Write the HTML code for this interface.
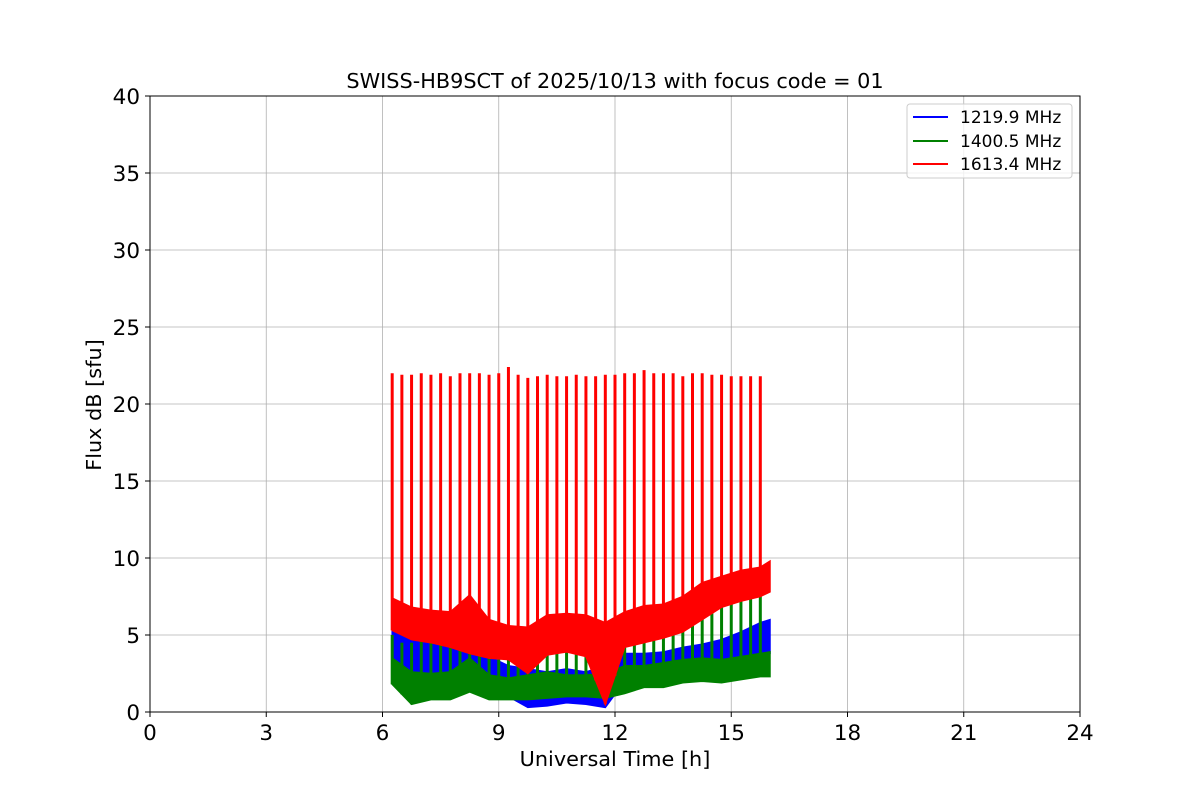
<!DOCTYPE html>
<html><head><meta charset="utf-8"><style>
body{margin:0;background:#fff;}
svg{display:block;font-family:"DejaVu Sans","Liberation Sans",sans-serif;}
</style></head><body>
<svg id="chart" width="1200" height="800" viewBox="0 0 1200 800" xmlns="http://www.w3.org/2000/svg">
<rect width="1200" height="800" fill="#fff"/>
<g id="grid"></g>
<g id="series"></g>
<rect x="150" y="96" width="930" height="616" fill="none" stroke="#000" stroke-width="1"/>
<g id="ticks"></g>
<text x="615" y="88" font-size="20.8" text-anchor="middle">SWISS-HB9SCT of 2025/10/13 with focus code = 01</text>
<text x="615" y="766" font-size="20.8" text-anchor="middle">Universal Time [h]</text>
<text x="101" y="405" font-size="20.8" text-anchor="middle" transform="rotate(-90 101 405)">Flux dB [sfu]</text>
<g>
<rect x="907" y="104" width="165" height="74" rx="3" fill="#fff" fill-opacity="0.8" stroke="#ccc"/>
<g><line x1="913" y1="117" x2="948" y2="117" stroke="#0000ff" stroke-width="2"/><text x="960" y="123" font-size="17">1219.9 MHz</text></g>
<g><line x1="913" y1="141" x2="948" y2="141" stroke="#008000" stroke-width="2"/><text x="960" y="147" font-size="17">1400.5 MHz</text></g>
<g><line x1="913" y1="164" x2="948" y2="164" stroke="#ff0000" stroke-width="2"/><text x="960" y="170" font-size="17">1613.4 MHz</text></g>
</g>
</svg>
<script>
const times=[6.25,6.75,7.25,7.75,8.25,8.75,9.25,9.75,10.25,10.75,11.25,11.75,12.25,12.75,13.25,13.75,14.25,14.75,15.25,15.75,16.0];
const blueLo=[2.5,2.0,2.1,2.0,2.2,1.6,1.0,0.3,0.4,0.6,0.5,0.3,2.0,2.2,2.3,2.5,2.8,3.0,3.2,3.6,3.8];
const blueHi=[5.4,4.8,4.5,4.3,4.6,3.6,3.0,2.8,2.6,2.8,2.6,3.0,3.8,3.8,3.9,4.2,4.4,4.7,5.2,5.8,6.0];
const greenLo=[1.8,0.5,0.8,0.8,1.3,0.8,0.8,0.8,0.9,1.0,1.0,0.9,1.2,1.6,1.6,1.9,2.0,1.9,2.1,2.3,2.3];
const greenHi=[3.5,2.6,2.5,2.6,3.5,2.4,2.2,2.4,2.6,2.4,2.4,2.5,3.0,3.0,3.2,3.4,3.5,3.4,3.6,3.8,3.9];
const redLo=[5.3,4.7,4.5,4.2,3.8,3.5,3.4,2.5,3.7,3.9,3.6,0.5,4.2,4.5,4.8,5.2,6.0,6.8,7.2,7.5,7.8];
const redHi=[7.4,6.8,6.6,6.5,7.6,6.0,5.6,5.5,6.3,6.4,6.3,5.8,6.5,6.9,7.0,7.5,8.4,8.8,9.2,9.4,9.8];
const spikeTimes=[6.25,6.5,6.75,7.0,7.25,7.5,7.75,8.0,8.25,8.5,8.75,9.0,9.25,9.5,9.75,10.0,10.25,10.5,10.75,11.0,11.25,11.5,11.75,12.0,12.25,12.5,12.75,13.0,13.25,13.5,13.75,14.0,14.25,14.5,14.75,15.0,15.25,15.5,15.75];
const redSpikes=[22.0,21.9,21.9,22.0,21.9,22.0,21.8,22.0,22.0,22.0,21.9,22.0,22.4,21.9,21.7,21.8,21.9,21.8,21.8,21.9,21.8,21.8,21.9,21.9,22.0,22.0,22.2,22.0,22.0,22.0,21.8,22.0,22.0,21.9,21.9,21.8,21.8,21.8,21.8];
const greenSpikes=[5.0,4.5,4.5,4.6,4.5,4.6,4.5,4.5,4.6,4.5,4.4,4.4,4.4,4.4,4.5,4.5,4.5,4.6,4.4,4.4,4.5,4.4,4.5,4.6,4.8,5.0,5.3,5.5,5.8,6.0,6.3,6.6,6.9,7.2,7.5,7.8,8.0,8.2,8.3];
const xTicks=[0,3,6,9,12,15,18,21,24];
const yTicks=[0,5,10,15,20,25,30,35,40];
const NS='http://www.w3.org/2000/svg';
const X=t=>150+t/24*930, Y=v=>712-v/40*616;
function mk(tag,attrs,parent){const e=document.createElementNS(NS,tag);for(const k in attrs)e.setAttribute(k,attrs[k]);parent.appendChild(e);return e;}
function interp(arr,t){
  for(let i=0;i<times.length-1;i++){if(t<=times[i+1]){const f=(t-times[i])/(times[i+1]-times[i]);return arr[i]+f*(arr[i+1]-arr[i]);}}
  return arr[arr.length-1];
}
const grid=document.getElementById('grid'),ticks=document.getElementById('ticks'),ser=document.getElementById('series');
xTicks.forEach(t=>{
  const g=mk('line',{x1:X(t),x2:X(t),y1:96,y2:712,stroke:'#b0b0b0','stroke-width':0.8},grid);
  
  
  mk('line',{x1:X(t),x2:X(t),y1:712,y2:717,stroke:'#000'},ticks);
  const l=mk('text',{x:X(t),y:740,'font-size':21.5,'text-anchor':'middle'},ticks);l.textContent=t;
  
  
});
yTicks.forEach(v=>{
  const g=mk('line',{x1:150,x2:1080,y1:Y(v),y2:Y(v),stroke:'#b0b0b0','stroke-width':0.8},grid);
  
  
  mk('line',{x1:145,x2:150,y1:Y(v),y2:Y(v),stroke:'#000'},ticks);
  const l=mk('text',{x:140,y:Y(v)+8,'font-size':21.5,'text-anchor':'end'},ticks);l.textContent=v;
  
  
});
function band(lo,hi,color,name){
  let pts=times.map((t,i)=>X(t)+','+Y(hi[i]));
  for(let i=times.length-1;i>=0;i--)pts.push(X(times[i])+','+Y(lo[i]));
  const p=mk('polygon',{points:pts.join(' '),fill:color,stroke:color,'stroke-width':1.5},ser);
  
  
}
function spikes(vals,base,color,name){
  spikeTimes.forEach((t,i)=>{
    const l=mk('line',{x1:X(t),x2:X(t),y1:Y(interp(base,t)),y2:Y(vals[i]),stroke:color,'stroke-width':3},ser);
    
    
  });
}
band(blueLo,blueHi,'#0000ff','series-1219-band');
band(greenLo,greenHi,'#008000','series-1400-band');
spikes(greenSpikes,greenLo,'#008000','series-1400-spike');
band(redLo,redHi,'#ff0000','series-1613-band');
spikes(redSpikes,redLo,'#ff0000','series-1613-spike');
</script>
</body></html>
